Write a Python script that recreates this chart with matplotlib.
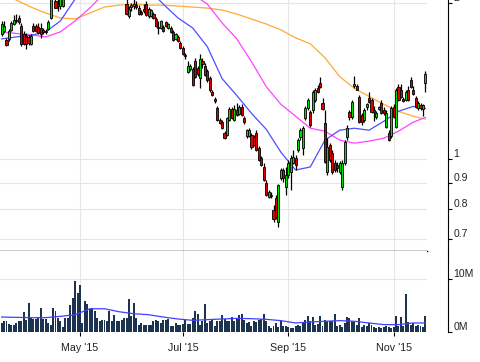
import numpy as np
import pandas as pd
import matplotlib
matplotlib.use("Agg")
import matplotlib.pyplot as plt

# trading days shown on the chart
holidays = pd.to_datetime(["2015-04-03", "2015-05-25", "2015-07-03", "2015-09-07"])
days = pd.bdate_range("2015-03-17", "2015-11-19")
days = days[~days.isin(holidays)]

opens = [1.746, 1.770, 1.700, 1.708, 1.778, 1.826, 1.858, 1.874, 1.810, 1.746,
         1.731, 1.724, 1.671, 1.810, 1.810, 1.802, 1.794, 1.778, 1.770, 1.786,
         1.874, 2.131, 2.021, 1.994, 1.976, 1.976, 2.08, 2.14, 2.20, 2.27,
         2.36, 2.33, 2.43, 2.40, 2.46, 2.50, 2.43, 2.38, 2.42, 2.36,
         2.32, 2.35, 2.30, 2.27, 2.31, 2.25, 2.22, 2.25, 2.18, 2.20,
         2.15, 1.994, 1.891, 1.968, 1.976, 1.985, 1.959, 1.925, 1.951, 1.994,
         1.891, 1.891, 1.908, 1.866, 1.802, 1.794, 1.802, 1.842, 1.794, 1.794,
         1.762, 1.708, 1.724, 1.678, 1.642, 1.592, 1.476, 1.496, 1.496, 1.550,
         1.503, 1.432, 1.550, 1.516, 1.483, 1.432, 1.345, 1.304, 1.253, 1.188,
         1.178, 1.122, 1.112, 1.188, 1.247, 1.188, 1.242, 1.220, 1.259, 1.199,
         1.107, 1.107, 1.112, 1.102, 1.122, 1.050, 1.004, 0.965, 0.899, 0.846,
         0.853, 0.798, 0.842, 0.754, 0.919, 0.953, 0.884, 0.932, 0.944, 0.983,
         1.004, 1.041, 1.102, 1.050, 1.199, 1.253, 1.231, 1.242, 1.299, 1.370,
         1.406, 1.281, 1.173, 0.944, 1.064, 1.027, 0.983, 0.974, 0.944, 0.884,
         0.983, 1.102, 1.231, 1.204, 1.382, 1.382, 1.316, 1.215, 1.188, 1.259,
         1.310, 1.299, 1.242, 1.204, 1.247, 1.281, 1.242, 1.152, 1.122, 1.107,
         1.259, 1.152, 1.376, 1.357, 1.304, 1.299, 1.357, 1.425, 1.363, 1.310,
         1.253, 1.270, 1.247, 1.400]

highs = [1.850, 1.850, 1.716, 1.786, 1.850, 1.900, 1.908, 1.900, 1.834, 1.770,
         1.754, 1.739, 1.746, 1.834, 1.826, 1.834, 1.834, 1.794, 1.786, 1.858,
         2.208, 2.208, 2.066, 2.039, 2.066, 2.093, 2.16, 2.22, 2.30, 2.40,
         2.44, 2.46, 2.52, 2.48, 2.55, 2.53, 2.47, 2.45, 2.46, 2.40,
         2.38, 2.39, 2.34, 2.33, 2.33, 2.29, 2.27, 2.27, 2.22, 2.23,
         2.18, 2.093, 1.976, 2.003, 2.048, 2.021, 1.985, 1.942, 1.994, 2.021,
         1.968, 1.951, 1.925, 1.883, 1.850, 1.858, 1.818, 1.850, 1.834, 1.810,
         1.778, 1.754, 1.739, 1.693, 1.656, 1.606, 1.550, 1.530, 1.510, 1.571,
         1.516, 1.599, 1.571, 1.537, 1.496, 1.450, 1.357, 1.316, 1.264, 1.199,
         1.188, 1.132, 1.204, 1.259, 1.259, 1.270, 1.281, 1.270, 1.276, 1.210,
         1.142, 1.147, 1.122, 1.112, 1.137, 1.059, 1.013, 0.983, 0.911, 0.872,
         0.864, 0.816, 0.853, 0.895, 0.961, 0.961, 0.965, 0.996, 1.018, 1.041,
         1.018, 1.097, 1.147, 1.157, 1.264, 1.310, 1.242, 1.357, 1.370, 1.388,
         1.444, 1.310, 1.242, 1.097, 1.073, 1.041, 0.996, 0.987, 0.991, 0.996,
         1.088, 1.162, 1.242, 1.299, 1.450, 1.394, 1.328, 1.226, 1.253, 1.281,
         1.345, 1.310, 1.264, 1.236, 1.264, 1.299, 1.259, 1.242, 1.137, 1.264,
         1.276, 1.370, 1.394, 1.394, 1.316, 1.357, 1.382, 1.444, 1.382, 1.322,
         1.293, 1.281, 1.276, 1.483]

lows = [1.731, 1.754, 1.656, 1.693, 1.770, 1.818, 1.834, 1.826, 1.656, 1.664,
        1.635, 1.664, 1.664, 1.762, 1.762, 1.746, 1.716, 1.746, 1.746, 1.778,
        1.866, 2.039, 1.959, 1.933, 1.951, 1.968, 2.06, 2.12, 2.18, 2.24,
        2.30, 2.31, 2.38, 2.35, 2.42, 2.40, 2.36, 2.35, 2.34, 2.30,
        2.28, 2.29, 2.25, 2.24, 2.24, 2.20, 2.19, 2.16, 2.14, 2.13,
        2.08, 1.900, 1.874, 1.933, 1.951, 1.951, 1.900, 1.900, 1.916, 1.891,
        1.874, 1.883, 1.866, 1.802, 1.746, 1.786, 1.762, 1.802, 1.786, 1.754,
        1.693, 1.700, 1.686, 1.635, 1.592, 1.564, 1.470, 1.483, 1.382, 1.432,
        1.450, 1.370, 1.503, 1.450, 1.412, 1.345, 1.322, 1.281, 1.183, 1.168,
        1.142, 1.092, 1.107, 1.183, 1.194, 1.183, 1.210, 1.215, 1.210, 1.168,
        1.097, 1.102, 1.045, 1.059, 1.036, 0.991, 0.970, 0.907, 0.849, 0.842,
        0.842, 0.754, 0.767, 0.738, 0.911, 0.903, 0.853, 0.919, 0.872, 0.978,
        0.953, 1.031, 1.088, 1.018, 1.188, 1.242, 1.152, 1.226, 1.287, 1.340,
        1.370, 1.242, 0.983, 0.932, 0.987, 0.936, 0.944, 0.944, 0.936, 0.872,
        0.974, 1.088, 1.188, 1.194, 1.370, 1.357, 1.173, 1.162, 1.178, 1.242,
        1.281, 1.226, 1.183, 1.194, 1.242, 1.220, 1.215, 1.147, 1.083, 1.097,
        1.199, 1.147, 1.293, 1.310, 1.287, 1.293, 1.293, 1.370, 1.328, 1.253,
        1.242, 1.242, 1.210, 1.345]

closes = [1.826, 1.810, 1.664, 1.770, 1.834, 1.858, 1.850, 1.842, 1.671, 1.671,
          1.671, 1.678, 1.731, 1.770, 1.770, 1.754, 1.746, 1.762, 1.762, 1.842,
          2.160, 2.066, 1.959, 1.976, 2.048, 2.075, 2.14, 2.20, 2.27, 2.36,
          2.33, 2.43, 2.40, 2.46, 2.50, 2.43, 2.38, 2.42, 2.36, 2.32,
          2.35, 2.30, 2.27, 2.31, 2.25, 2.22, 2.25, 2.18, 2.20, 2.15,
          2.10, 1.908, 1.951, 1.985, 1.994, 1.968, 1.908, 1.908, 1.933, 1.900,
          1.951, 1.942, 1.874, 1.810, 1.794, 1.850, 1.770, 1.810, 1.826, 1.762,
          1.700, 1.746, 1.693, 1.642, 1.599, 1.585, 1.516, 1.516, 1.388, 1.438,
          1.463, 1.564, 1.530, 1.457, 1.419, 1.357, 1.328, 1.293, 1.188, 1.173,
          1.147, 1.097, 1.199, 1.247, 1.199, 1.247, 1.215, 1.259, 1.215, 1.178,
          1.137, 1.137, 1.054, 1.064, 1.041, 0.996, 0.974, 0.911, 0.853, 0.864,
          0.849, 0.764, 0.771, 0.891, 0.953, 0.919, 0.932, 0.983, 1.004, 1.009,
          0.974, 1.088, 1.137, 1.147, 1.253, 1.299, 1.162, 1.345, 1.357, 1.345,
          1.376, 1.247, 0.987, 1.054, 0.996, 0.944, 0.953, 0.961, 0.983, 0.983,
          1.078, 1.147, 1.204, 1.287, 1.394, 1.363, 1.178, 1.178, 1.242, 1.276,
          1.287, 1.231, 1.231, 1.226, 1.259, 1.226, 1.226, 1.226, 1.088, 1.253,
          1.204, 1.357, 1.299, 1.316, 1.293, 1.345, 1.299, 1.376, 1.334, 1.259,
          1.281, 1.253, 1.270, 1.463]

# volume, millions of shares
volume = [1.61, 1.93, 1.93, 1.49, 1.30, 1.30, 1.61, 1.93, 1.93, 3.60,
          2.24, 5.34, 2.55, 2.42, 2.42, 2.67, 4.53, 2.42, 2.42, 1.61,
          1.30, 4.53, 3.79, 2.55, 1.93, 0.87, 2.55, 2.55, 5.03, 6.40,
          9.57, 7.20, 8.76, 1.61, 5.78, 5.22, 4.22, 4.41, 3.79, 2.55,
          1.93, 2.24, 2.24, 1.93, 3.91, 1.93, 3.17, 1.93, 1.93, 2.24,
          2.55, 2.55, 6.15, 2.86, 5.47, 2.55, 1.30, 1.61, 1.30, 1.30,
          1.30, 1.30, 1.93, 2.24, 1.93, 1.61, 2.24, 2.24, 2.42, 0.99,
          0.99, 1.61, 1.30, 1.30, 1.49, 2.11, 1.43, 1.49, 2.55, 3.79,
          3.35, 1.30, 1.93, 5.16, 1.61, 2.05, 2.11, 1.12, 2.05, 1.93,
          3.17, 2.42, 1.93, 1.93, 2.73, 1.93, 2.55, 3.17,
          3.35, 2.11, 1.61, 1.74, 0.99, 1.93, 1.74, 2.24, 2.36, 3.23,
          1.93, 0.99, 0.68, 1.12, 1.61, 0.87, 2.24, 1.12, 1.12, 0.87,
          0.68, 0.68, 1.12, 1.30, 1.12, 1.61, 2.24, 2.98, 1.93, 2.73,
          1.30, 1.49, 2.98, 1.12, 2.11, 2.05, 1.93, 2.05, 3.35, 0.99,
          1.30, 0.87, 1.61, 2.73, 2.55, 1.93, 1.74, 1.30, 2.55, 0.87,
          1.30, 1.12, 1.61, 1.30, 0.87, 0.68, 0.87, 0.68, 0.87,
          1.12, 0.87, 0.68, 0.87, 2.86, 1.12, 2.73, 1.12, 7.02, 1.74,
          1.30, 1.61, 1.12, 1.30, 1.12, 0.87, 2.86]

# moving averages, read every 6 trading days
ma_days = list(range(0, 169, 6)) + [173]
ma_fast = [1.708, 1.723, 1.735, 1.762, 1.850, 2.039, 2.257, 2.359, 2.359, 2.257,
           2.131, 1.994, 1.875, 1.793, 1.649, 1.431, 1.327, 1.226, 1.142, 1.031,
           0.952, 0.965, 1.088, 1.137, 1.147, 1.137, 1.183, 1.237, 1.264, 1.253]
ma_mid = [1.762, 1.750, 1.739, 1.723, 1.762, 1.850, 1.959, 2.094, 2.208, 2.257,
          2.257, 2.227, 2.160, 2.084, 1.994, 1.834, 1.708, 1.543, 1.381, 1.276,
          1.210, 1.147, 1.132, 1.088, 1.073, 1.083, 1.097, 1.132, 1.178, 1.204]
ma_slow = [2.094, 2.030, 1.968, 1.916, 1.875, 1.867, 1.916, 1.968, 1.985, 1.994,
           1.985, 1.985, 1.977, 1.968, 1.959, 1.942, 1.908, 1.866, 1.825, 1.778,
           1.716, 1.671, 1.570, 1.444, 1.369, 1.322, 1.276, 1.237, 1.210, 1.194]
vol_ma = [2.73, 2.67, 2.61, 2.61, 2.86, 3.17, 4.29, 4.29, 3.73, 3.35,
          3.17, 2.73, 2.36, 2.11, 2.24, 2.36, 2.48, 2.42, 2.30, 2.05,
          1.61, 1.80, 1.93, 2.05, 1.93, 1.61, 1.30, 1.30, 1.61, 1.61]

price_ticks = [0.7, 0.8, 0.9, 1, 2]
price_labels = ["0.7", "0.8", "0.9", "1", "2"]
vol_ticks = [0, 10]
vol_labels = ["0M", "10M"]

plt.rcParams["font.family"] = ["Liberation Sans", "DejaVu Sans"]

x = np.arange(len(days))
o = np.array(opens)
h = np.array(highs)
l = np.array(lows)
c = np.array(closes)
v = np.array(volume) * 1e6

months = [i for i in range(1, len(days)) if days[i].month != days[i - 1].month and days[i].month % 2 == 1]
month_labels = [days[i].strftime("%b '%y") for i in months]

W, H = 481, 362
fig = plt.figure(figsize=(W / 100, H / 100), dpi=100)
ax = fig.add_axes([0, (H - 251) / H, 427 / W, 251 / H])
ax2 = fig.add_axes([0, (H - 331.5) / H, 427 / W, 80.5 / H], sharex=ax)

grid_c = "#e6e6e6"
txt_c = "#222222"

# price panel
ax.set_yscale("log")
ax.vlines(x, l, h, color="black", linewidth=0.9, zorder=3)
up = c >= o
ax.bar(x, np.abs(c - o), bottom=np.minimum(o, c), width=0.85,
       color=np.where(up, "#00dd00", "#dd0000"), edgecolor="black",
       linewidth=0.6, zorder=4)
ax.plot(ma_days, ma_slow, color="#ffaa33", linewidth=0.9, zorder=2)
ax.plot(ma_days, ma_mid, color="#ff44ff", linewidth=0.9, zorder=2)
ax.plot(ma_days, ma_fast, color="#4d4dff", linewidth=0.9, zorder=2)

ax.set_xlim(-0.65, 173.65)
ax.set_ylim(0.6637, 2.031)
ax.set_yticks(price_ticks)
ax.set_yticklabels(price_labels)
ax.yaxis.set_minor_locator(plt.NullLocator())
ax.set_xticks(months)
ax.grid(True, color=grid_c, linewidth=0.8, zorder=0)
ax.set_axisbelow(True)
ax.yaxis.tick_right()
ax.tick_params(axis="y", direction="out", length=3, width=0.8, pad=1,
               labelsize=7.5, labelcolor=txt_c)
ax.tick_params(axis="x", length=0, labelbottom=False)
for s in ["left", "top"]:
    ax.spines[s].set_visible(False)
ax.spines["bottom"].set_color("black")
ax.spines["bottom"].set_linewidth(1.0)
ax.spines["right"].set_position(("outward", 21 * 0.72))
ax.spines["right"].set_linewidth(0.8)

# volume panel
ax2.bar(x, v, width=0.8, color="#1c3350", zorder=2)
ax2.plot(ma_days, np.array(vol_ma) * 1e6, color="#4040ff", linewidth=0.9, zorder=3)
ax2.set_ylim(0, 15.2e6)
ax2.set_yticks([t * 1e6 for t in vol_ticks])
ax2.set_yticklabels(vol_labels)
ax2.set_xticks(months)
ax2.set_xticklabels(month_labels)
ax2.grid(True, color=grid_c, linewidth=0.8, zorder=0)
ax2.set_axisbelow(True)
ax2.yaxis.tick_right()
ax2.tick_params(axis="y", direction="out", length=3, width=0.8, pad=1,
                labelsize=7.5, labelcolor=txt_c)
ax2.tick_params(axis="x", direction="out", length=3, width=0.8, pad=5,
                labelsize=7.7, labelcolor=txt_c)
for s in ["left", "top", "bottom"]:
    ax2.spines[s].set_visible(False)
ax2.spines["right"].set_position(("outward", 21 * 0.72))
ax2.spines["right"].set_linewidth(0.8)

# right-hand labels sit just above their tick marks
for a in (ax, ax2):
    for tick in a.yaxis.get_major_ticks():
        tick.label2.set_verticalalignment("bottom")

fig.savefig("out.png", dpi=100)
